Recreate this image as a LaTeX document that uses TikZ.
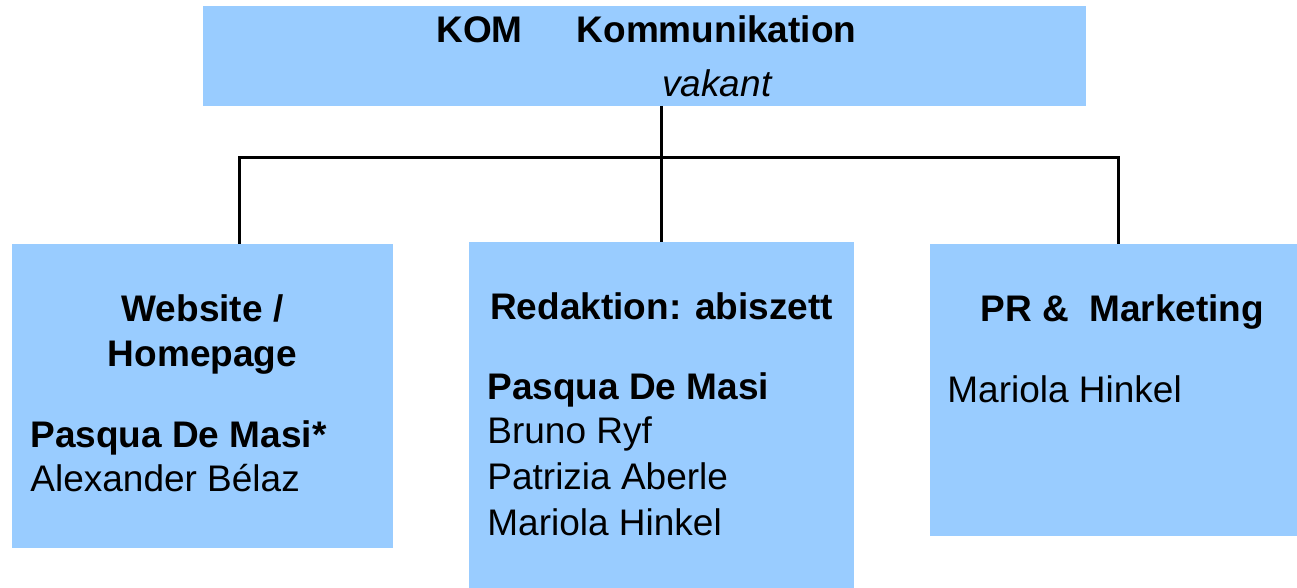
\documentclass[tikz,border=0pt]{standalone}
\usepackage{fontspec}
\setmainfont{Liberation Sans}
\definecolor{boxblue}{HTML}{99CCFF}

\begin{document}
\begin{tikzpicture}[x=0.5pt,y=-0.5pt,
  box/.style={fill=boxblue,inner sep=0pt,outer sep=0pt},
  txt/.style={inner sep=0pt,anchor=base west,font=\fontsize{18.5}{22}\selectfont},
  ttl/.style={txt,font=\fontsize{18.5}{22}\selectfont\bfseries}]
\useasboundingbox (0,0) rectangle (1297,588);

\node[box,minimum width=441.5pt,minimum height=50pt] (kom) at (644.5,56) {};
\node[box,minimum width=190.5pt,minimum height=152pt] (web) at (202.5,396) {};
\node[box,minimum width=192.5pt,minimum height=173pt] (red) at (661.5,415) {};
\node[box,minimum width=183.5pt,minimum height=146pt] (pr) at (1113.5,390) {};

\coordinate (L) at (239,158);
\coordinate (R) at (1118,158);

\draw[line width=1.5pt] (kom.south -| red.north) -- (red.north);
\draw[line width=1.5pt] (web.north -| L) -- (L) -- (R) -- (pr.north -| R);

\node[ttl] (komname) at (436,43) {KOM\hspace{27pt}Kommunikation};
\node[txt] (komhead) at (662,97) {\itshape vakant};

\node[ttl,anchor=base] (webt1) at (202.5,322) {Website /};
\node[ttl,anchor=base] (webt2) at (202.5,367) {Homepage};
\node[ttl] (web1) at (30,447) {Pasqua De Masi*};
\node[txt] (web2) at (30,491) {Alexander Bélaz};

\node[ttl,anchor=base] (redt) at (661.5,320) {Redaktion: abiszett};
\node[ttl] (red1) at (487,400) {Pasqua De Masi};
\node[txt] (red2) at (487,444) {Bruno Ryf};
\node[txt] (red3) at (487,489) {Patrizia Aberle};
\node[txt] (red4) at (487,535) {Mariola Hinkel};

\node[ttl] (prt) at (980,322) {PR \& \ Marketing};
\node[txt] (pr1) at (947,402) {Mariola Hinkel};

\end{tikzpicture}
\end{document}
